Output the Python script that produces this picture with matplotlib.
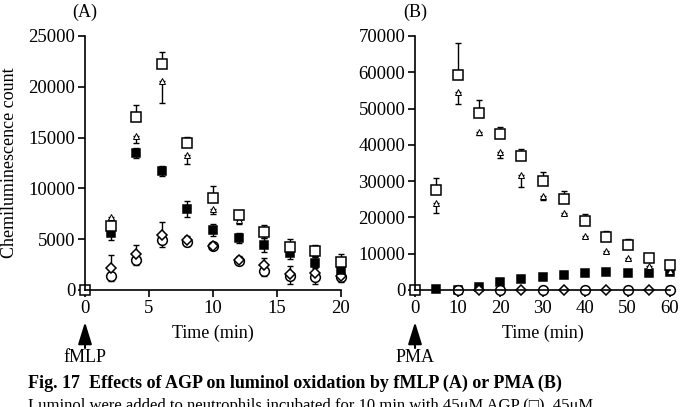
import matplotlib
matplotlib.use("Agg")
import matplotlib.pyplot as plt
import numpy as np

plt.rcParams['font.family'] = ['Liberation Serif', 'DejaVu Serif']
plt.rcParams['font.size'] = 13

# ---- panel A : fMLP ----
tA = [0, 2, 4, 6, 8, 10, 12, 14, 16, 18, 20]
tA2 = tA[1:]
a_open_sq = [0, 6300, 17000, 22200, 14500, 9100, 7400, 5700, 4200, 3800, 2800]
a_open_sq_err = [0, 700, 1200, 1250, 600, 1100, 400, 650, 850, 600, 700]
a_tri = [7200, 15200, 20600, 13300, 8000, 6900, 5600, 4400, 3600, 2600]
a_tri_err = [600, 700, 2200, 900, 500, 400, 500, 400, 400, 400]
a_fill_sq = [5600, 13500, 11750, 8000, 5900, 5150, 4400, 3600, 2700, 2000]
a_fill_sq_err = [700, 500, 500, 800, 600, 500, 700, 500, 500, 500]
a_diam = [2200, 3500, 5450, 4900, 4350, 2950, 2450, 1550, 1650, 1400]
a_diam_err = [1200, 900, 1200, 400, 300, 400, 700, 800, 600, 500]
a_circ = [1400, 3000, 4900, 4700, 4300, 2900, 1900, 1400, 1250, 1300]
a_circ_err = [500, 500, 700, 400, 300, 300, 500, 800, 700, 500]

# ---- panel B : PMA ----
tB = [0, 5, 10, 15, 20, 25, 30, 35, 40, 45, 50, 55, 60]
tB2 = tB[1:]
b_open_sq = [0, 27600, 59300, 48900, 42900, 36900, 30000, 25200, 19000, 14700, 12300, 8700, 6900]
b_open_sq_err = [0, 3200, 8800, 3400, 2000, 2000, 2500, 2000, 2000, 1500, 1800, 1000, 1000]
b_tri = [24000, 54500, 43600, 38100, 31700, 25800, 21200, 14900, 10800, 8700, 6600, 5300]
b_tri_err = [2700, 3200, 800, 1800, 3200, 1000, 500, 500, 500, 500, 500, 500]
b_fill_sq = [200, 0, 800, 2100, 3000, 3700, 4200, 4800, 5000, 4700, 4700, 5000]
tB_circ = [10, 20, 30, 40, 50, 60]
b_circ = [0, 0, 0, 0, 0, 0]
tB_diam = [15, 25, 35, 45, 55]
b_diam = [0, 0, 0, 0, 0]

fig = plt.figure(figsize=(6.85, 4.07), dpi=100)
W, H = 685.0, 407.0
axA = fig.add_axes([85 / W, 1 - 290 / H, 256 / W, 254 / H])
axB = fig.add_axes([415 / W, 1 - 290 / H, 255 / W, 254 / H])

eb = dict(fmt='none', ecolor='black', elinewidth=1.0, capsize=2.5, capthick=1.0, clip_on=False)
mk = dict(linestyle='none', color='black', markeredgewidth=1.1, clip_on=False)
z0 = lambda v: [0] * len(v)

# panel A
axA.errorbar(tA2, a_circ, yerr=[a_circ_err, z0(a_circ)], **eb)
axA.errorbar(tA2, a_diam, yerr=[z0(a_diam), a_diam_err], **eb)
axA.errorbar(tA2, a_fill_sq, yerr=[a_fill_sq_err, a_fill_sq_err], **eb)
axA.errorbar(tA2, a_tri, yerr=[a_tri_err, z0(a_tri)], **eb)
axA.errorbar(tA, a_open_sq, yerr=[z0(a_open_sq), a_open_sq_err], **eb)
axA.plot(tA2, a_circ, marker='o', ms=7, mfc='white', **mk)
axA.plot(tA2, a_diam, marker='D', ms=5.5, mfc='white', **mk)
axA.plot(tA2, a_fill_sq, marker='s', ms=5.5, mfc='black', **mk)
axA.plot(tA2, a_tri, marker='^', ms=5, mfc='white', markeredgewidth=0.7,
         linestyle='none', color='black', clip_on=False)
axA.plot(tA, a_open_sq, marker='s', ms=6.5, mfc='white', **mk)

axA.set_xlim(0, 20)
axA.set_ylim(0, 25000)
axA.set_xticks([0, 5, 10, 15, 20])
axA.set_yticks([0, 5000, 10000, 15000, 20000, 25000])

# panel B
axB.errorbar(tB2, b_tri, yerr=[b_tri_err, z0(b_tri)], **eb)
axB.errorbar(tB, b_open_sq, yerr=[z0(b_open_sq), b_open_sq_err], **eb)
axB.plot(tB2, b_fill_sq, marker='s', ms=5.5, mfc='black', **mk)
axB.plot(tB_circ, b_circ, marker='o', ms=7, mfc='white', **mk)
axB.plot(tB_diam, b_diam, marker='D', ms=5.5, mfc='white', **mk)
axB.plot(tB2, b_tri, marker='^', ms=5, mfc='white', markeredgewidth=0.7,
         linestyle='none', color='black', clip_on=False)
axB.plot(tB, b_open_sq, marker='s', ms=6.5, mfc='white', **mk)

axB.set_xlim(0, 60)
axB.set_ylim(0, 70000)
axB.set_xticks([0, 10, 20, 30, 40, 50, 60])
axB.set_yticks(np.arange(0, 70001, 10000))

for ax, lab, stim in [(axA, '(A)', 'fMLP'), (axB, '(B)', 'PMA')]:
    for s in ('top', 'right'):
        ax.spines[s].set_visible(False)
    for s in ('left', 'bottom'):
        ax.spines[s].set_linewidth(1.2)
    ax.tick_params(direction='out', length=5, width=1.2, labelsize=13.5, pad=2)
    ax.set_xlabel('Time (min)', fontsize=13, labelpad=6)
    ax.annotate(lab, xy=(0, H - 12), xycoords=('data', 'figure pixels'),
                ha='center', va='center', fontsize=13, annotation_clip=False)
    ax.annotate('', xy=(0, H - 322), xytext=(0, H - 348),
                xycoords=('data', 'figure pixels'), textcoords=('data', 'figure pixels'),
                arrowprops=dict(arrowstyle='-|>,head_length=1.35,head_width=0.42',
                                color='black', lw=1.5, mutation_scale=10, shrinkA=0, shrinkB=0),
                annotation_clip=False)
    ax.annotate(stim, xy=(0, H - 358), xycoords=('data', 'figure pixels'),
                ha='center', va='center', fontsize=13, annotation_clip=False)

fig.text(10 / W, 1 - 163 / H, 'Chemiluminescence count', rotation=90,
         ha='center', va='center', fontsize=13)
fig.text(28 / W, 1 - 383 / H, 'Fig. 17  Effects of AGP on luminol oxidation by fMLP (A) or PMA (B)',
         ha='left', va='center', fontsize=13, fontweight='bold')
fig.text(28 / W, 1 - 406 / H, 'Luminol were added to neutrophils incubated for 10 min with 45\u03bcM AGP (\u25a1), 45\u03bcM',
         ha='left', va='center', fontsize=12)

fig.savefig('out.png', dpi=100)
